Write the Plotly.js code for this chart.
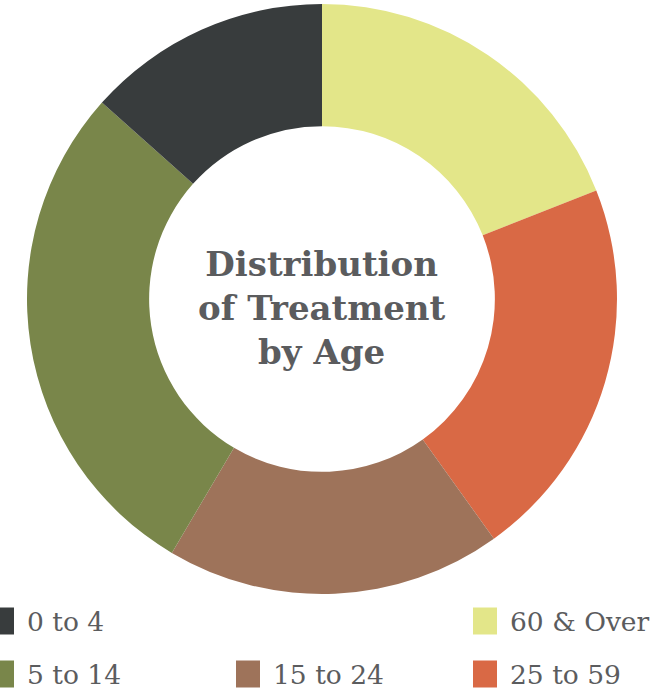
<!DOCTYPE html>
<html>
<head>
<meta charset="utf-8">
<script src="https://cdn.plot.ly/plotly-3.0.1.min.js"></script>
<style>html,body{margin:0;padding:0;background:#fff;}#chart{width:652px;height:697px;}</style>
</head>
<body>
<div id="chart"></div>
<script>
// Data (clockwise from 12 o'clock)
const categories = ["60 & Over", "25 to 59", "15 to 24", "5 to 14", "0 to 4"];
const shares = [19.0, 21.1, 18.4, 28.1, 13.4];
const colors = ["#e3e689", "#d96945", "#9e735a", "#79864a", "#383c3d"];
const centerTitle = ["Distribution", "of Treatment", "by Age"];
const legendOrder = ["0 to 4", "60 & Over", "5 to 14", "15 to 24", "25 to 59"];

// Layout constants (pixels)
const W = 652, H = 697;
const legendSlots = [[-10, 621], [473, 621], [-10, 674], [236, 674], [473, 674]];
const sqW = 24, sqH = 27, textGap = 11;
const px = x => x / W, py = y => 1 - y / H;
const FONT = "DejaVu Serif, Liberation Serif, serif";

const trace = {
  type: "pie",
  labels: categories,
  values: shares,
  marker: {colors: colors, line: {width: 0}},
  hole: 0.586,
  sort: false,
  direction: "clockwise",
  rotation: 0,
  textinfo: "none",
  hoverinfo: "label+percent",
  showlegend: false,
  domain: {x: [px(27), px(617)], y: [py(594), py(4)]}
};

const shapes = [], annotations = [];
legendOrder.forEach((lab, i) => {
  const idx = categories.indexOf(lab);
  const [x0, yc] = legendSlots[i];
  shapes.push({type: "rect", xref: "paper", yref: "paper",
    x0: px(x0), x1: px(x0 + sqW), y0: py(yc + sqH / 2), y1: py(yc - sqH / 2),
    fillcolor: colors[idx], line: {width: 0}});
  annotations.push({xref: "paper", yref: "paper", x: px(x0 + sqW + textGap), y: py(yc),
    xanchor: "left", yanchor: "middle", showarrow: false, text: lab,
    font: {family: FONT, size: 26.5, color: "#5b5c5e"}});
});
annotations.push({xref: "paper", yref: "paper", x: px(322), y: py(308),
  xanchor: "center", yanchor: "middle", showarrow: false,
  text: centerTitle.map(s => "<b>" + s + "</b>").join("<br>"),
  font: {family: FONT, size: 34, color: "#5b5c5e"}});

const layout = {
  width: W, height: H,
  margin: {l: 0, r: 0, t: 0, b: 0},
  paper_bgcolor: "#ffffff",
  shapes: shapes,
  annotations: annotations
};
Plotly.newPlot("chart", [trace], layout, {displayModeBar: false, staticPlot: true});
</script>
</body>
</html>
